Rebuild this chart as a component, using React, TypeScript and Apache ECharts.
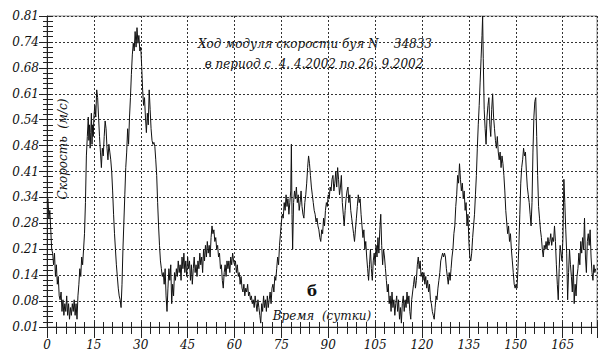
import React, { useEffect, useRef } from "react";
import * as echarts from "echarts";

// Buoy 34833 current speed (m/s) vs time (days since 4.4.2002)
const segA: [number, number][] = [
  [0, 0.33], [0.3, 0.34], [0.6, 0.29], [0.9, 0.31], [1.2, 0.26], [1.5, 0.21], [1.8, 0.2], [2.1, 0.17], [2.4, 0.2], [2.7, 0.14],
  [3.0, 0.17], [3.3, 0.12], [3.6, 0.14], [3.9, 0.09], [4.2, 0.08], [4.5, 0.1], [4.8, 0.05], [5.1, 0.08], [5.4, 0.04], [5.7, 0.07],
  [6.0, 0.05], [6.3, 0.09], [6.6, 0.04], [6.9, 0.07], [7.2, 0.03], [7.5, 0.06], [7.8, 0.04], [8.1, 0.07], [8.4, 0.05], [8.7, 0.08],
  [9.0, 0.04], [9.3, 0.07], [9.6, 0.03], [9.9, 0.09], [10.2, 0.12], [10.5, 0.16], [10.8, 0.14], [11.1, 0.19], [11.4, 0.17], [11.7, 0.21],
  [12.0, 0.25], [12.3, 0.33], [12.6, 0.45], [12.9, 0.5], [13.2, 0.55], [13.4, 0.49], [13.6, 0.53], [13.8, 0.47], [14.0, 0.51], [14.2, 0.56],
  [14.4, 0.48], [14.6, 0.53], [14.8, 0.5], [15.0, 0.55],
];
const segB: [number, number][] = [
  [15.3, 0.58], [15.6, 0.55], [15.9, 0.62], [16.2, 0.6], [16.5, 0.55], [16.8, 0.5], [17.1, 0.46], [17.4, 0.42], [17.7, 0.47], [18.0, 0.45],
  [18.3, 0.5], [18.6, 0.54], [18.9, 0.52], [19.2, 0.47], [19.5, 0.44], [19.8, 0.48], [20.1, 0.46], [20.4, 0.44], [20.7, 0.41], [21.0, 0.36],
  [21.3, 0.3], [21.6, 0.25], [21.9, 0.21], [22.2, 0.17], [22.5, 0.14], [22.8, 0.11], [23.1, 0.09], [23.4, 0.08], [23.7, 0.06], [24.0, 0.12],
  [24.3, 0.21], [24.6, 0.28], [24.9, 0.35], [25.2, 0.42], [25.5, 0.46], [25.8, 0.52], [26.1, 0.48], [26.4, 0.55], [26.7, 0.6], [27.0, 0.66],
  [27.3, 0.71], [27.6, 0.74], [27.9, 0.72], [28.2, 0.77], [28.5, 0.73], [28.8, 0.78], [29.1, 0.74], [29.4, 0.76], [29.7, 0.72], [30.0, 0.73],
];
const segC: [number, number][] = [
  [30.3, 0.68], [30.6, 0.62], [30.9, 0.58], [31.2, 0.6], [31.5, 0.55], [31.8, 0.51], [32.1, 0.56], [32.4, 0.53], [32.7, 0.62], [33.0, 0.57],
  [33.3, 0.52], [33.6, 0.49], [33.9, 0.48], [34.2, 0.485], [34.5, 0.475], [34.8, 0.44], [35.1, 0.4], [35.4, 0.33], [35.7, 0.27], [36.0, 0.22],
  [36.3, 0.18], [36.6, 0.16], [36.9, 0.14], [37.2, 0.15], [37.5, 0.12], [37.8, 0.16], [38.1, 0.09], [38.4, 0.05], [38.7, 0.11], [39.0, 0.16],
  [39.3, 0.13], [39.6, 0.17], [39.9, 0.07], [40.2, 0.12], [40.5, 0.09], [40.8, 0.15], [41.1, 0.13], [41.4, 0.16], [41.7, 0.14], [42.0, 0.18],
  [42.3, 0.15], [42.6, 0.17], [42.9, 0.13], [43.2, 0.19], [43.5, 0.16], [43.8, 0.2], [44.1, 0.15], [44.4, 0.18], [44.7, 0.14], [45.0, 0.19],
];
const segD: [number, number][] = [
  [45.3, 0.16], [45.6, 0.18], [45.9, 0.13], [46.2, 0.17], [46.5, 0.12], [46.8, 0.16], [47.1, 0.19], [47.4, 0.15], [47.7, 0.17], [48.0, 0.14],
  [48.3, 0.18], [48.6, 0.16], [48.9, 0.2], [49.2, 0.17], [49.5, 0.19], [49.8, 0.15], [50.1, 0.21], [50.4, 0.18], [50.7, 0.22], [51.0, 0.19],
  [51.3, 0.23], [51.6, 0.2], [51.9, 0.22], [52.2, 0.19], [52.5, 0.24], [52.8, 0.27], [53.1, 0.25], [53.4, 0.26], [53.7, 0.23], [54.0, 0.24],
  [54.3, 0.21], [54.6, 0.22], [54.9, 0.19], [55.2, 0.2], [55.5, 0.16], [55.8, 0.17], [56.1, 0.13], [56.4, 0.11], [56.7, 0.15], [57.0, 0.17],
  [57.3, 0.14], [57.6, 0.18], [57.9, 0.16], [58.2, 0.18], [58.5, 0.15], [58.8, 0.19], [59.1, 0.17], [59.4, 0.2], [59.7, 0.18], [60.0, 0.17],
];
const segE: [number, number][] = [
  [60.3, 0.18], [60.6, 0.15], [60.9, 0.17], [61.2, 0.14], [61.5, 0.15], [61.8, 0.12], [62.1, 0.14], [62.4, 0.11], [62.7, 0.1], [63.0, 0.12],
  [63.3, 0.09], [63.6, 0.11], [63.9, 0.1], [64.2, 0.12], [64.5, 0.09], [64.8, 0.1], [65.1, 0.08], [65.4, 0.09], [65.7, 0.07], [66.0, 0.08],
  [66.3, 0.06], [66.6, 0.09], [66.9, 0.07], [67.2, 0.05], [67.5, 0.08], [67.8, 0.06], [68.1, 0.04], [68.4, 0.02], [68.7, 0.07], [69.0, 0.05],
  [69.3, 0.09], [69.6, 0.06], [69.9, 0.08], [70.2, 0.05], [70.5, 0.09], [70.8, 0.06], [71.1, 0.08], [71.4, 0.1], [71.7, 0.07], [72.0, 0.11],
  [72.3, 0.12], [72.6, 0.1], [72.9, 0.14], [73.2, 0.13], [73.5, 0.16], [73.8, 0.19], [74.1, 0.17], [74.4, 0.22], [74.7, 0.25], [75.0, 0.28],
];
const segF: [number, number][] = [
  [75.3, 0.3], [75.6, 0.29], [75.9, 0.33], [76.2, 0.31], [76.5, 0.35], [76.8, 0.32], [77.1, 0.34], [77.4, 0.3], [77.7, 0.33], [78.0, 0.36],
  [78.2, 0.48], [78.4, 0.3], [78.6, 0.21], [78.9, 0.33], [79.2, 0.36], [79.5, 0.34], [79.8, 0.37], [80.1, 0.33], [80.4, 0.35], [80.7, 0.31],
  [81.0, 0.33], [81.3, 0.36], [81.6, 0.32], [81.9, 0.3], [82.2, 0.29], [82.5, 0.33], [82.8, 0.35], [83.1, 0.38], [83.4, 0.42], [83.7, 0.45],
  [84.0, 0.43], [84.3, 0.4], [84.6, 0.37], [84.9, 0.35], [85.2, 0.33], [85.5, 0.31], [85.8, 0.3], [86.1, 0.28], [86.4, 0.29], [86.7, 0.27],
  [87.0, 0.26], [87.3, 0.24], [87.6, 0.23], [87.9, 0.26], [88.2, 0.25], [88.5, 0.29], [88.8, 0.27], [89.1, 0.31], [89.4, 0.33], [89.7, 0.32],
  [90.0, 0.35],
];
const segG: [number, number][] = [
  [90.3, 0.34], [90.6, 0.37], [90.9, 0.36], [91.2, 0.39], [91.5, 0.4], [91.8, 0.36], [92.1, 0.38], [92.4, 0.41], [92.7, 0.37], [93.0, 0.42],
  [93.3, 0.39], [93.6, 0.35], [93.9, 0.37], [94.2, 0.4], [94.5, 0.33], [94.8, 0.3], [95.1, 0.27], [95.4, 0.31], [95.7, 0.34], [96.0, 0.36],
  [96.3, 0.37], [96.6, 0.33], [96.9, 0.35], [97.2, 0.31], [97.5, 0.29], [97.8, 0.27], [98.1, 0.25], [98.4, 0.23], [98.7, 0.26], [99.0, 0.29],
  [99.3, 0.32], [99.6, 0.35], [99.9, 0.33], [100.2, 0.34], [100.5, 0.3], [100.8, 0.27], [101.1, 0.24], [101.4, 0.26], [101.7, 0.21], [102.0, 0.23],
  [102.3, 0.19], [102.6, 0.16], [102.9, 0.13], [103.2, 0.17], [103.5, 0.21], [103.8, 0.16], [104.1, 0.13], [104.4, 0.18], [104.7, 0.2], [105.0, 0.17],
];
const segH: [number, number][] = [
  [105.3, 0.22], [105.6, 0.19], [105.9, 0.24], [106.2, 0.2], [106.5, 0.26], [106.8, 0.3], [107.1, 0.22], [107.4, 0.17], [107.7, 0.21], [108.0, 0.19],
  [108.3, 0.16], [108.6, 0.13], [108.9, 0.1], [109.2, 0.12], [109.5, 0.07], [109.8, 0.09], [110.1, 0.05], [110.4, 0.1], [110.7, 0.06], [111.0, 0.08],
  [111.3, 0.04], [111.6, 0.07], [111.9, 0.09], [112.2, 0.05], [112.5, 0.08], [112.8, 0.03], [113.1, 0.06], [113.4, 0.02], [113.7, 0.07], [114.0, 0.09],
  [114.3, 0.05], [114.6, 0.08], [114.9, 0.06], [115.2, 0.1], [115.5, 0.07], [115.8, 0.09], [116.1, 0.05], [116.4, 0.03], [116.7, 0.08], [117.0, 0.1],
  [117.3, 0.12], [117.6, 0.14], [117.9, 0.11], [118.2, 0.13], [118.5, 0.17], [118.8, 0.19], [119.1, 0.16], [119.4, 0.18], [119.7, 0.14], [120.0, 0.15],
];
const segI: [number, number][] = [
  [120.3, 0.13], [120.6, 0.15], [120.9, 0.12], [121.2, 0.14], [121.5, 0.11], [121.8, 0.13], [122.1, 0.1], [122.4, 0.12], [122.7, 0.08], [123.0, 0.07],
  [123.3, 0.05], [123.6, 0.04], [123.9, 0.03], [124.2, 0.06], [124.5, 0.09], [124.8, 0.08], [125.1, 0.11], [125.4, 0.13], [125.7, 0.15], [126.0, 0.18],
  [126.3, 0.19], [126.6, 0.2], [126.9, 0.19], [127.2, 0.2], [127.5, 0.19], [127.8, 0.16], [128.1, 0.14], [128.4, 0.12], [128.7, 0.15], [129.0, 0.13],
  [129.3, 0.16], [129.6, 0.19], [129.9, 0.21], [130.2, 0.25], [130.5, 0.27], [130.8, 0.32], [131.1, 0.35], [131.4, 0.4], [131.7, 0.38], [132.0, 0.43],
  [132.3, 0.39], [132.6, 0.36], [132.9, 0.38], [133.2, 0.34], [133.5, 0.36], [133.8, 0.31], [134.1, 0.33], [134.4, 0.27], [134.7, 0.3], [135.0, 0.23],
];
const segJ: [number, number][] = [
  [135.3, 0.19], [135.6, 0.18], [135.9, 0.2], [136.2, 0.24], [136.5, 0.27], [136.8, 0.3], [137.1, 0.35], [137.4, 0.4], [137.7, 0.47], [138.0, 0.53],
  [138.3, 0.58], [138.6, 0.64], [138.9, 0.7], [139.2, 0.76], [139.4, 0.81], [139.6, 0.7], [139.9, 0.57], [140.2, 0.52], [140.5, 0.48], [140.8, 0.55],
  [141.1, 0.58], [141.4, 0.6], [141.7, 0.53], [142.0, 0.5], [142.3, 0.57], [142.6, 0.61], [142.9, 0.55], [143.2, 0.52], [143.5, 0.49], [143.8, 0.47],
  [144.1, 0.5], [144.4, 0.46], [144.7, 0.44], [145.0, 0.46], [145.3, 0.42], [145.6, 0.45], [145.9, 0.43], [146.2, 0.4], [146.5, 0.36], [146.8, 0.31],
  [147.1, 0.28], [147.4, 0.25], [147.7, 0.27], [148.0, 0.23], [148.3, 0.25], [148.6, 0.21], [148.9, 0.18], [149.2, 0.15], [149.5, 0.12], [149.8, 0.11],
];
const segK: [number, number][] = [
  [150.1, 0.12], [150.4, 0.11], [150.7, 0.16], [151.0, 0.22], [151.3, 0.3], [151.6, 0.38], [151.9, 0.42], [152.2, 0.44], [152.5, 0.47], [152.8, 0.45],
  [153.1, 0.46], [153.4, 0.41], [153.7, 0.37], [154.0, 0.35], [154.3, 0.33], [154.6, 0.3], [154.9, 0.27], [155.2, 0.33], [155.5, 0.46], [155.8, 0.55],
  [156.1, 0.59], [156.4, 0.6], [156.7, 0.5], [157.0, 0.4], [157.3, 0.32], [157.6, 0.29], [157.9, 0.26], [158.2, 0.24], [158.5, 0.21], [158.8, 0.19],
  [159.1, 0.22], [159.4, 0.21], [159.7, 0.23], [160.0, 0.21], [160.3, 0.24], [160.6, 0.22], [160.9, 0.23], [161.2, 0.25], [161.5, 0.22], [161.8, 0.24],
  [162.1, 0.23], [162.4, 0.27], [162.7, 0.23], [163.0, 0.17], [163.3, 0.12], [163.6, 0.08], [163.9, 0.16], [164.2, 0.22], [164.5, 0.2], [164.8, 0.18],
  [165.1, 0.24], [165.4, 0.39], [165.7, 0.33], [166.0, 0.26], [166.3, 0.2], [166.6, 0.08], [166.9, 0.15], [167.2, 0.21], [167.5, 0.17], [167.8, 0.14],
  [168.1, 0.1], [168.4, 0.17], [168.7, 0.07], [169.0, 0.12], [169.3, 0.09], [169.6, 0.14], [169.9, 0.16], [170.2, 0.2], [170.5, 0.17], [170.8, 0.23],
  [171.1, 0.2], [171.4, 0.24], [171.7, 0.21], [172.0, 0.29], [172.3, 0.19], [172.6, 0.15], [172.9, 0.23], [173.2, 0.25], [173.5, 0.22], [173.8, 0.26],
  [174.1, 0.19], [174.4, 0.15], [174.7, 0.13], [175.0, 0.17], [175.3, 0.15], [175.6, 0.16],
];

const SEGMENTS = [segA, segB, segC, segD, segE, segF, segG, segH, segI, segJ, segK];

// Axis definitions (as printed on the original plot)
const Y_MIN = 0.01;
const Y_MAX = 0.81;
const Y_STEPS = 12; // labels 0.01, 0.08, 0.14 ... 0.81
const X_MIN = 0;
const X_MAX = 176;
const X_STEP = 15;

const TITLE_1 = "Ход модуля скорости буя N    34833";
const TITLE_2 = "в период с  4. 4.2002 по 26. 9.2002";
const Y_NAME = "Скорость  (м/с)";
const X_NAME = "Время  (сутки)";
const PANEL = "б";

const FONT = "'DejaVu Serif', 'Liberation Serif', serif";

export default function App() {
  const ref = useRef<HTMLDivElement>(null);
  useEffect(() => {
    if (!ref.current) return;
    const chart = echarts.init(ref.current, undefined, { renderer: "svg" });
    const yStep = (Y_MAX - Y_MIN) / Y_STEPS;
    const toUnits = (v: number) => (v - Y_MIN) / yStep;
    const data = SEGMENTS.flat().map(([d, v]) => [d, toUnits(v)]);

    const yLabel = (v: number) => (Y_MIN + v * yStep).toFixed(2);
    const labelFont = { fontFamily: FONT, fontStyle: "italic" as const, fontSize: 12, color: "#111" };

    chart.setOption({
      animation: false,
      backgroundColor: "#ffffff",
      grid: {
        left: 47, right: 3, top: 16, bottom: 22,
        show: true, borderColor: "#8a8a8a", borderWidth: 1, backgroundColor: "transparent",
      },
      xAxis: [
        {
          type: "value", min: X_MIN, max: X_MAX, interval: X_STEP,
          axisLine: { lineStyle: { color: "#222", width: 1 } },
          axisTick: { show: true, length: 11, lineStyle: { color: "#222" } },
          minorTick: { show: true, splitNumber: 5, length: 7, lineStyle: { color: "#222" } },
          axisLabel: { ...labelFont, margin: 12, showMaxLabel: false },
          splitLine: { show: true, lineStyle: { color: "#333", type: [2, 2], width: 1 } },
        },
        {
          type: "value", min: X_MIN, max: X_MAX, interval: X_STEP, position: "bottom",
          axisLine: { show: false },
          axisTick: { show: true, inside: true, length: 5, lineStyle: { color: "#222" } },
          minorTick: { show: true, splitNumber: 5, length: 5, lineStyle: { color: "#222" } },
          axisLabel: { show: false },
          splitLine: { show: false },
        },
      ],
      yAxis: [
        {
          type: "value", min: 0, max: Y_STEPS, interval: 1,
          axisLine: { show: true, lineStyle: { color: "#222", width: 1 } },
          axisTick: { show: true, length: 8, lineStyle: { color: "#222" } },
          minorTick: { show: true, splitNumber: 5, length: 4, lineStyle: { color: "#222" } },
          axisLabel: { ...labelFont, margin: 8, formatter: yLabel },
          splitLine: { show: true, lineStyle: { color: "#333", type: [2, 2], width: 1 } },
        },
        {
          type: "value", min: 0, max: Y_STEPS, interval: 1, position: "left",
          axisLine: { show: false },
          axisTick: { show: true, inside: true, length: 6, lineStyle: { color: "#222" } },
          minorTick: { show: true, splitNumber: 5, length: 6, lineStyle: { color: "#222" } },
          axisLabel: { show: false },
          splitLine: { show: false },
        },
      ],
      series: [
        {
          type: "line",
          data,
          xAxisIndex: 0,
          yAxisIndex: 0,
          showSymbol: false,
          symbol: "none",
          lineStyle: { color: "#111", width: 1 },
        },
      ],
      graphic: [
        {
          type: "text", x: 315, y: 43.5,
          style: { text: TITLE_1, font: `italic 12px ${FONT}`, fill: "#111", align: "center", verticalAlign: "middle", textAlign: "center", textVerticalAlign: "middle" },
        },
        {
          type: "text", x: 314, y: 63.5,
          style: { text: TITLE_2, font: `italic 12px ${FONT}`, fill: "#111", align: "center", verticalAlign: "middle", textAlign: "center", textVerticalAlign: "middle" },
        },
        {
          type: "text", x: 63, y: 149, rotation: Math.PI / 2,
          style: { text: Y_NAME, font: `italic 12px ${FONT}`, fill: "#111", align: "center", verticalAlign: "middle", textAlign: "center", textVerticalAlign: "middle" },
        },
        {
          type: "text", x: 322, y: 316,
          style: { text: X_NAME, font: `italic 12px ${FONT}`, fill: "#111", align: "center", verticalAlign: "middle", textAlign: "center", textVerticalAlign: "middle" },
        },
        {
          type: "text", x: 312, y: 291,
          style: { text: PANEL, font: `bold 15px ${FONT}`, fill: "#111", align: "center", verticalAlign: "middle", textAlign: "center", textVerticalAlign: "middle" },
        },
      ],
    });
    return () => chart.dispose();
  }, []);
  return <div ref={ref} style={{ position: "absolute", left: 0, top: 0, width: 600, height: 351 }} />;
}
